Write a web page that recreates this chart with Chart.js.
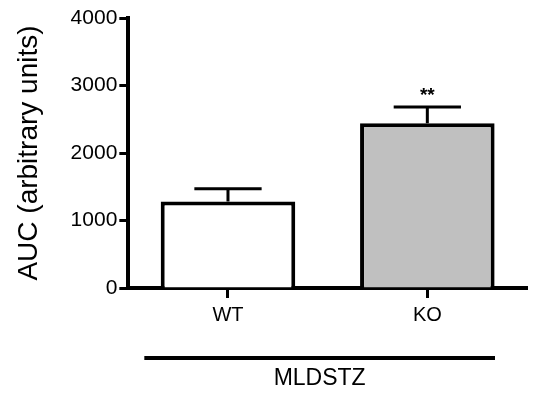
<!DOCTYPE html>
<html>
<head>
<meta charset="utf-8">
<script src="https://cdn.jsdelivr.net/npm/chart.js@4"></script>
<style>
  body { margin: 0; background: #fff; }
  #wrap { width: 534px; height: 395px; }
</style>
</head>
<body>
<div id="wrap"><canvas id="auc"></canvas></div>
<script>
// data
const groups = ['WT', 'KO'];
const aucMean = [1280, 2440];
const aucSem = [190, 240];
const signif = ['', '**'];
const yTicks = [0, 1000, 2000, 3000, 4000];
const groupLabel = 'MLDSTZ';

const FONT = 'Liberation Sans, Arial, sans-serif';

// error bars + stars + group line
const extras = {
  id: 'extras',
  afterDatasetsDraw(chart) {
    const c = chart.ctx;
    const x = chart.scales.x, y = chart.scales.y;
    const meta = chart.getDatasetMeta(0);
    c.save();
    c.strokeStyle = '#000';
    c.fillStyle = '#000';
    c.lineWidth = 3;
    meta.data.forEach((bar, i) => {
      const cx = bar.x;
      const yTop = y.getPixelForValue(aucMean[i] + aucSem[i]);
      const yBar = y.getPixelForValue(aucMean[i]);
      const half = bar.width * 0.25;
      c.beginPath();
      c.moveTo(cx, yBar);
      c.lineTo(cx, yTop);
      c.moveTo(cx - half, yTop);
      c.lineTo(cx + half, yTop);
      c.stroke();
      if (signif[i]) {
        c.font = 'bold 19px ' + FONT;
        c.textAlign = 'center';
        c.textBaseline = 'bottom';
        c.fillText(signif[i], cx, yTop - 2);
      }
    });
    // group line under the x labels
    const lineY = chart.chartArea.bottom + 70;
    c.lineWidth = 4;
    c.beginPath();
    c.moveTo(x.left + 16, lineY);
    c.lineTo(x.right - 32, lineY);
    c.stroke();
    c.font = '23px ' + FONT;
    c.textAlign = 'center';
    c.textBaseline = 'middle';
    c.fillText(groupLabel, (x.left + x.right) / 2 - 8, lineY + 21);
    c.restore();
  }
};

new Chart(document.getElementById('auc'), {
  type: 'bar',
  data: {
    labels: groups,
    datasets: [{
      data: aucMean,
      backgroundColor: ['#ffffff', '#c0c0c0'],
      borderColor: '#000',
      borderWidth: 4,
      borderSkipped: 'bottom',
      barPercentage: 0.675,
      categoryPercentage: 1
    }]
  },
  options: {
    responsive: true,
    maintainAspectRatio: false,
    animation: false,
    layout: { padding: { left: 12, right: 7, top: 18, bottom: 63 } },
    plugins: {
      legend: { display: false },
      tooltip: { enabled: false }
    },
    scales: {
      x: {
        offset: true,
        grid: {
          offset: false,
          drawOnChartArea: false,
          drawTicks: true,
          tickLength: 10,
          tickWidth: 3,
          tickColor: '#000'
        },
        border: { color: '#000', width: 4 },
        ticks: { color: '#000', font: { family: FONT, size: 20 }, padding: 5 }
      },
      y: {
        min: 0,
        max: 4000,
        afterBuildTicks: (axis) => { axis.ticks = yTicks.map(v => ({ value: v })); },
        grid: {
          drawOnChartArea: false,
          drawTicks: true,
          tickLength: 9,
          tickWidth: 3,
          tickColor: '#000'
        },
        border: { color: '#000', width: 4 },
        ticks: {
          color: '#000',
          font: { family: FONT, size: 21 },
          padding: 2,
          callback: (v) => String(v)
        },
        title: {
          display: true,
          text: 'AUC (arbitrary units)',
          color: '#000',
          font: { family: FONT, size: 28 },
          padding: { top: 0, bottom: 23 }
        }
      }
    }
  },
  plugins: [extras]
});
</script>
</body>
</html>
